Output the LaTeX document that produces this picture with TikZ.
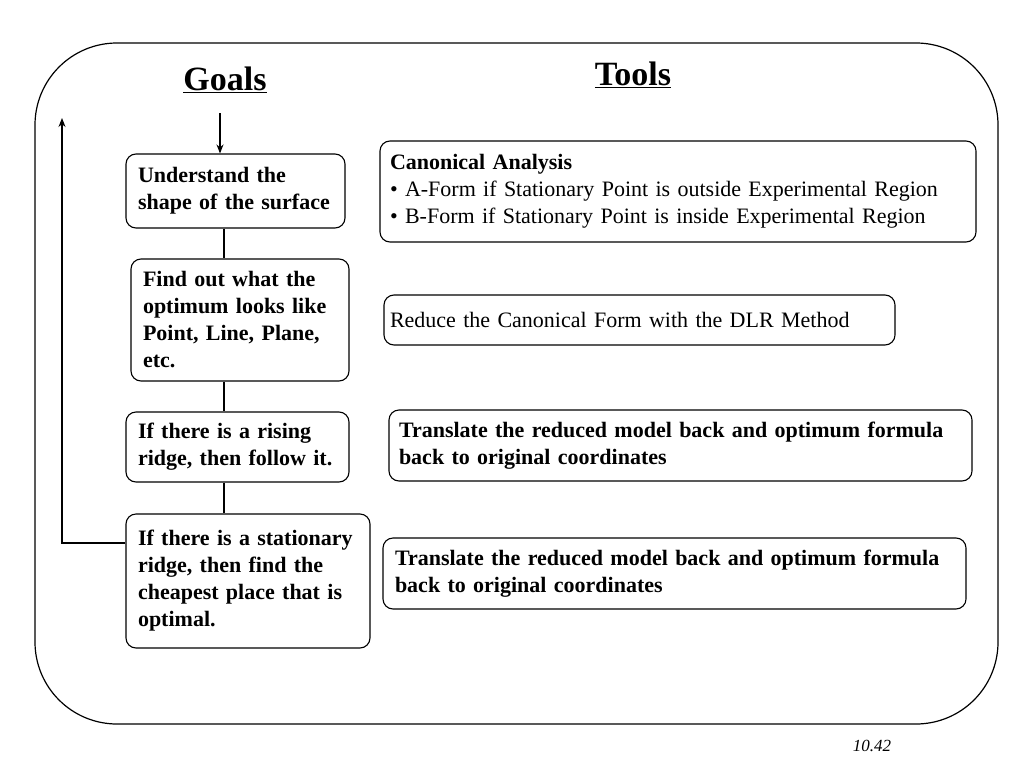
\documentclass[tikz,border=0pt]{standalone}
\usepackage{fontspec}
\setmainfont{Liberation Serif}
\usetikzlibrary{arrows.meta}

\tikzset{
  box/.style={draw, rounded corners=10pt, line width=1.1pt, align=left,
    inner xsep=0pt, inner ysep=0pt, font=\fontsize{22}{27}\selectfont},
  goalbox/.style={box, font=\bfseries\fontsize{22}{27}\selectfont},
  title/.style={font=\bfseries\fontsize{34}{38}\selectfont},
  arr/.style={-{Stealth[length=9pt,width=7pt]}, line width=1.1pt},
  link/.style={line width=1.1pt}
}

\begin{document}
\begin{tikzpicture}[x=1pt, y=-1pt]
\useasboundingbox (0,0) rectangle (1024,768);

% outer frame
\draw[line width=1.2pt, rounded corners=82pt] (35,43) rectangle (998,724);

% ---------- goals column ----------
\node[title] (goals) at (225,80) {\underline{Goals}};

\node[goalbox, minimum width=219pt, minimum height=74pt, text width=195pt] (understand) at (235.5,191)
  {Understand the\\shape of the surface};
\node[goalbox, minimum width=218pt, minimum height=122pt, text width=194pt] (findout) at (240,320)
  {Find out what the\\optimum looks like\\Point, Line, Plane,\\etc.};
\node[goalbox, minimum width=223pt, minimum height=70pt, text width=199pt] (rising) at (237.5,447)
  {If there is a rising\\ridge, then follow it.};
\node[goalbox, minimum width=244pt, minimum height=134pt, text width=220pt] (stationary) at (248,581)
  {If there is a stationary\\ridge, then find the\\cheapest place that is\\optimal.};

\coordinate (gtop) at (220,113);
\coordinate (fbtop) at (62,118);

\draw[arr] (gtop) -- (gtop |- understand.north);
\draw[link] (224,0 |- understand.south) -- (224,0 |- findout.north);
\draw[link] (224,0 |- findout.south) -- (224,0 |- rising.north);
\draw[link] (224,0 |- rising.south) -- (224,0 |- stationary.north);
\draw[arr] (stationary.west |- 0,543) -| (fbtop);

% ---------- tools column ----------
\node[title] (tools) at (633,75) {\underline{Tools}};

\node[box, minimum width=596pt, minimum height=101pt, text width=576pt] (canonical) at (678,191.5)
  {\textbf{Canonical Analysis}\\\textbullet{} A-Form if Stationary Point is outside Experimental Region\\\textbullet{} B-Form if Stationary Point is inside Experimental Region};
\node[box, minimum width=511pt, minimum height=50pt, text width=499pt] (reduce) at (639.5,320)
  {Reduce the Canonical Form with the DLR Method};
\node[goalbox, minimum width=583pt, minimum height=71pt, text width=563pt] (translateA) at (680.5,445.5)
  {Translate the reduced model back and optimum formula\\back to original coordinates};
\node[goalbox, minimum width=583pt, minimum height=71pt, text width=559pt] (translateB) at (674.5,573.5)
  {Translate the reduced model back and optimum formula\\back to original coordinates};

\node[font=\itshape\fontsize{17}{19}\selectfont] (pageno) at (872,746) {10.42};

\end{tikzpicture}
\end{document}
